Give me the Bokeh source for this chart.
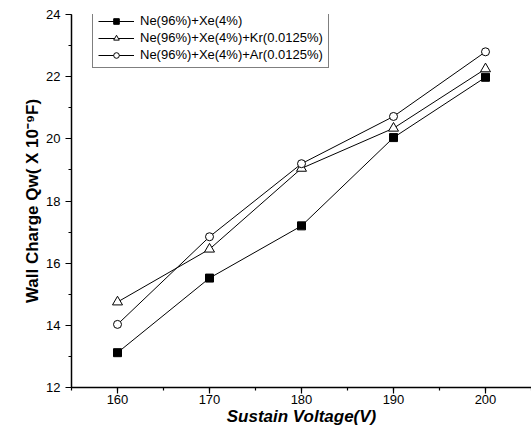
from bokeh.plotting import figure
from bokeh.models import Range1d, SingleIntervalTicker, Legend, LegendItem
from bokeh.embed import file_html
from bokeh.resources import INLINE

voltage = [160, 170, 180, 190, 200]
ne_xe = [13.12, 15.52, 17.2, 20.04, 21.98]
ne_xe_kr = [14.75, 16.45, 19.05, 20.34, 22.25]
ne_xe_ar = [14.03, 16.85, 19.2, 20.72, 22.8]
labels = ["Ne(96%)+Xe(4%)", "Ne(96%)+Xe(4%)+Kr(0.0125%)", "Ne(96%)+Xe(4%)+Ar(0.0125%)"]

p = figure(width=531, height=441, output_backend="svg", toolbar_location=None,
           x_range=Range1d(155, 205), y_range=Range1d(12, 24),
           min_border_left=71, min_border_right=0, min_border_top=14, min_border_bottom=54)
p.outline_line_color = None
p.xgrid.visible = False
p.ygrid.visible = False
p.background_fill_color = "white"

p.xaxis.ticker = SingleIntervalTicker(interval=10, num_minor_ticks=2)
p.yaxis.ticker = SingleIntervalTicker(interval=2, num_minor_ticks=2)
for ax in (p.xaxis[0], p.yaxis[0]):
    ax.axis_line_width = 1.5
    ax.axis_line_color = "black"
    ax.major_tick_line_color = "black"
    ax.major_tick_line_width = 1.2
    ax.minor_tick_line_color = "black"
    ax.minor_tick_line_width = 1.2
    ax.major_tick_out = 6
    ax.major_tick_in = 0
    ax.minor_tick_out = 3
    ax.minor_tick_in = 0
    ax.major_label_text_font = "Liberation Sans"
    ax.major_label_text_font_size = "13px"
    ax.major_label_text_color = "black"
    ax.axis_label_text_font = "Liberation Sans"
    ax.axis_label_text_font_size = "17px"
    ax.axis_label_text_font_style = "bold"
    ax.axis_label_text_color = "black"

p.xaxis.axis_label = "Sustain Voltage(V)"
p.xaxis.axis_label_text_font_style = "bold italic"
p.xaxis.axis_label_standoff = 0
p.xaxis.major_label_standoff = 1
p.yaxis.axis_label = "Wall Charge Qw( X 10\u207b\u2079F)"
p.yaxis.axis_label_standoff = 1
p.yaxis.major_label_standoff = 5

series = [
    (ne_xe, "square", "black", 8),
    (ne_xe_kr, "triangle", "white", 10),
    (ne_xe_ar, "circle", "white", 8),
]
items = []
for ys, marker, fill, size in series:
    ln = p.line(voltage, ys, line_color="black", line_width=1)
    sc = p.scatter(voltage, ys, marker=marker, size=size, line_color="black",
                   fill_color=fill, line_width=1)
    items.append((ln, sc))

legend = Legend(items=[LegendItem(label=lab, renderers=[ln, sc]) for lab, (ln, sc) in zip(labels, items)],
                location=(21, 319))
legend.border_line_color = "black"
legend.border_line_width = 1
legend.label_text_font = "Liberation Sans"
legend.label_text_font_size = "13px"
legend.label_text_color = "black"
legend.glyph_width = 36
legend.glyph_height = 14
legend.label_height = 14
legend.spacing = 2
legend.padding = 5
legend.margin = 0
legend.label_standoff = 6
legend.background_fill_alpha = 1
p.add_layout(legend)

open("out.html", "w").write(file_html(p, INLINE))
